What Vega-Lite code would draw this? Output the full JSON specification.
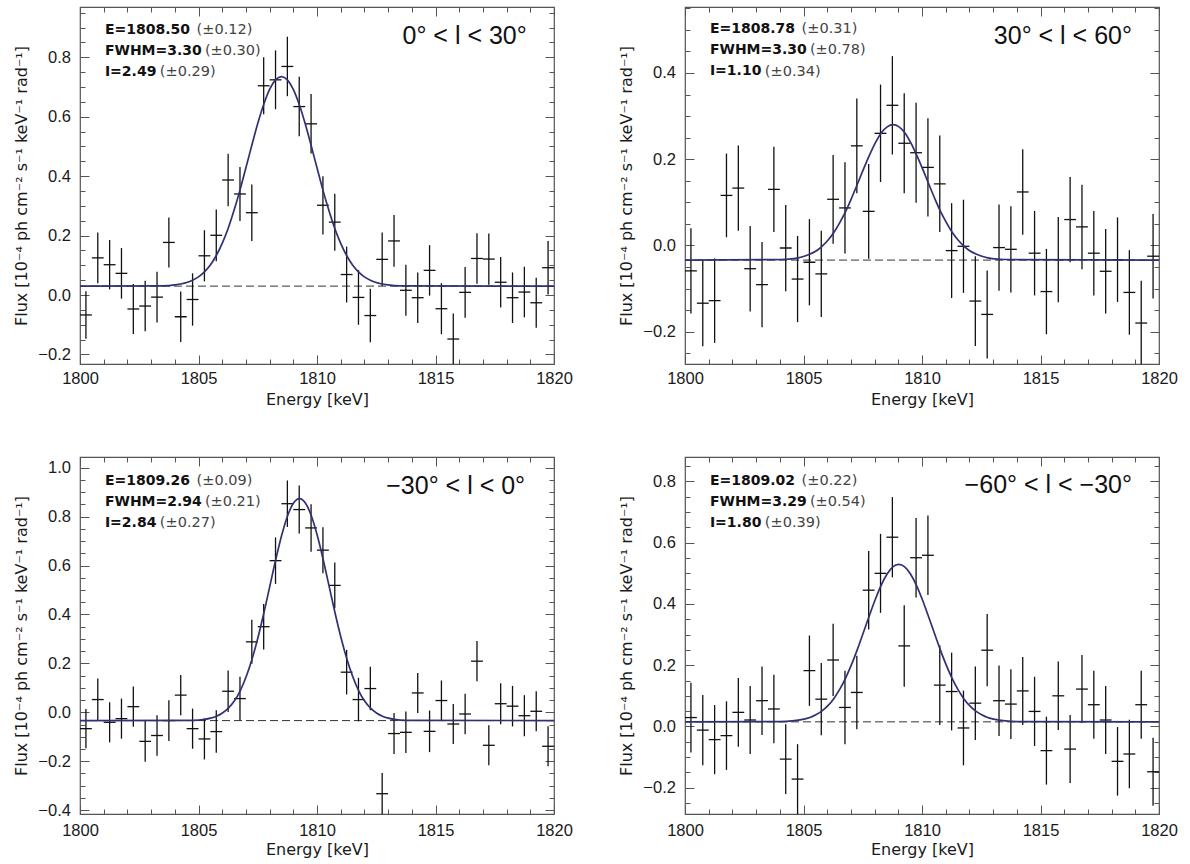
{
  "$schema": "https://vega.github.io/schema/vega-lite/v6.json",
  "background": "white",
  "padding": {"left": 13, "top": 5, "right": 10, "bottom": 5},
  "columns": 2,
  "spacing": {"row": 93, "column": 131},
  "bounds": "flush",
  "config": {
    "view": {"stroke": "#555555", "strokeWidth": 1.2},
    "axis": {
      "domain": false, "grid": false, "tickColor": "#555555", "tickWidth": 1,
      "labelFont": "Liberation Sans", "labelFontSize": 16.5, "labelColor": "#1a1a1a",
      "titleFont": "DejaVu Sans", "titleFontSize": 16, "titleFontWeight": "normal", "titleColor": "#1a1a1a",
      "labelFlush": false, "labelOverlap": false
    }
  },
  "datasets": {
    "p1": [
      {"E":1800.25,"f":-0.067,"s":0.08},{"E":1800.75,"f":0.125,"s":0.085},{"E":1801.25,"f":0.102,"s":0.083},{"E":1801.75,"f":0.073,"s":0.085},
      {"E":1802.25,"f":-0.047,"s":0.084},{"E":1802.75,"f":-0.037,"s":0.085},{"E":1803.25,"f":-0.007,"s":0.085},{"E":1803.75,"f":0.177,"s":0.084},
      {"E":1804.25,"f":-0.073,"s":0.085},{"E":1804.75,"f":-0.015,"s":0.088},{"E":1805.25,"f":0.132,"s":0.086},{"E":1805.75,"f":0.201,"s":0.087},
      {"E":1806.25,"f":0.387,"s":0.088},{"E":1806.75,"f":0.340,"s":0.091},{"E":1807.25,"f":0.277,"s":0.095},{"E":1807.75,"f":0.704,"s":0.096},
      {"E":1808.25,"f":0.724,"s":0.099},{"E":1808.75,"f":0.769,"s":0.1},{"E":1809.25,"f":0.634,"s":0.1},{"E":1809.75,"f":0.576,"s":0.1},
      {"E":1810.25,"f":0.302,"s":0.098},{"E":1810.75,"f":0.245,"s":0.096},{"E":1811.25,"f":0.069,"s":0.094},{"E":1811.75,"f":-0.008,"s":0.092},
      {"E":1812.25,"f":-0.069,"s":0.09},{"E":1812.75,"f":0.120,"s":0.09},{"E":1813.25,"f":0.182,"s":0.087},{"E":1813.75,"f":0.016,"s":0.086},
      {"E":1814.25,"f":-0.009,"s":0.085},{"E":1814.75,"f":0.083,"s":0.085},{"E":1815.25,"f":-0.046,"s":0.086},{"E":1815.75,"f":-0.148,"s":0.086},
      {"E":1816.25,"f":0.009,"s":0.085},{"E":1816.75,"f":0.123,"s":0.085},{"E":1817.25,"f":0.121,"s":0.086},{"E":1817.75,"f":0.043,"s":0.085},
      {"E":1818.25,"f":-0.009,"s":0.085},{"E":1818.75,"f":0.010,"s":0.085},{"E":1819.25,"f":-0.026,"s":0.084},{"E":1819.75,"f":0.092,"s":0.09}
    ],
    "p2": [
      {"E":1800.25,"f":-0.059,"s":0.099},{"E":1800.75,"f":-0.134,"s":0.1},{"E":1801.25,"f":-0.128,"s":0.098},{"E":1801.75,"f":0.116,"s":0.097},
      {"E":1802.25,"f":0.133,"s":0.099},{"E":1802.75,"f":-0.054,"s":0.099},{"E":1803.25,"f":-0.091,"s":0.099},{"E":1803.75,"f":0.130,"s":0.099},
      {"E":1804.25,"f":-0.006,"s":0.1},{"E":1804.75,"f":-0.078,"s":0.1},{"E":1805.25,"f":-0.039,"s":0.1},{"E":1805.75,"f":-0.066,"s":0.1},
      {"E":1806.25,"f":0.107,"s":0.103},{"E":1806.75,"f":0.087,"s":0.106},{"E":1807.25,"f":0.231,"s":0.11},{"E":1807.75,"f":0.079,"s":0.11},
      {"E":1808.25,"f":0.260,"s":0.113},{"E":1808.75,"f":0.325,"s":0.114},{"E":1809.25,"f":0.237,"s":0.116},{"E":1809.75,"f":0.215,"s":0.116},
      {"E":1810.25,"f":0.181,"s":0.114},{"E":1810.75,"f":0.143,"s":0.112},{"E":1811.25,"f":-0.012,"s":0.11},{"E":1811.75,"f":-0.002,"s":0.108},
      {"E":1812.25,"f":-0.129,"s":0.104},{"E":1812.75,"f":-0.160,"s":0.102},{"E":1813.25,"f":-0.005,"s":0.1},{"E":1813.75,"f":-0.009,"s":0.1},
      {"E":1814.25,"f":0.124,"s":0.099},{"E":1814.75,"f":-0.018,"s":0.098},{"E":1815.25,"f":-0.107,"s":0.099},{"E":1815.75,"f":-0.033,"s":0.099},
      {"E":1816.25,"f":0.060,"s":0.099},{"E":1816.75,"f":0.043,"s":0.098},{"E":1817.25,"f":-0.018,"s":0.098},{"E":1817.75,"f":-0.060,"s":0.098},
      {"E":1818.25,"f":-0.033,"s":0.098},{"E":1818.75,"f":-0.109,"s":0.098},{"E":1819.25,"f":-0.180,"s":0.098},{"E":1819.75,"f":-0.025,"s":0.098}
    ],
    "p3": [
      {"E":1800.25,"f":-0.067,"s":0.08},{"E":1800.75,"f":0.052,"s":0.086},{"E":1801.25,"f":-0.041,"s":0.082},{"E":1801.75,"f":-0.026,"s":0.082},
      {"E":1802.25,"f":0.023,"s":0.082},{"E":1802.75,"f":-0.119,"s":0.083},{"E":1803.25,"f":-0.095,"s":0.083},{"E":1803.75,"f":-0.034,"s":0.083},
      {"E":1804.25,"f":0.070,"s":0.082},{"E":1804.75,"f":-0.067,"s":0.082},{"E":1805.25,"f":-0.109,"s":0.084},{"E":1805.75,"f":-0.079,"s":0.087},
      {"E":1806.25,"f":0.086,"s":0.085},{"E":1806.75,"f":0.056,"s":0.089},{"E":1807.25,"f":0.288,"s":0.09},{"E":1807.75,"f":0.350,"s":0.093},
      {"E":1808.25,"f":0.620,"s":0.095},{"E":1808.75,"f":0.853,"s":0.095},{"E":1809.25,"f":0.829,"s":0.098},{"E":1809.75,"f":0.754,"s":0.097},
      {"E":1810.25,"f":0.663,"s":0.094},{"E":1810.75,"f":0.519,"s":0.094},{"E":1811.25,"f":0.164,"s":0.091},{"E":1811.75,"f":0.052,"s":0.089},
      {"E":1812.25,"f":0.097,"s":0.089},{"E":1812.75,"f":-0.333,"s":0.085},{"E":1813.25,"f":-0.087,"s":0.084},{"E":1813.75,"f":-0.082,"s":0.085},
      {"E":1814.25,"f":0.079,"s":0.082},{"E":1814.75,"f":-0.078,"s":0.085},{"E":1815.25,"f":0.048,"s":0.082},{"E":1815.75,"f":-0.048,"s":0.082},
      {"E":1816.25,"f":-0.007,"s":0.083},{"E":1816.75,"f":0.209,"s":0.082},{"E":1817.25,"f":-0.135,"s":0.082},{"E":1817.75,"f":0.035,"s":0.084},
      {"E":1818.25,"f":0.025,"s":0.083},{"E":1818.75,"f":-0.014,"s":0.084},{"E":1819.25,"f":0.004,"s":0.082},{"E":1819.75,"f":-0.139,"s":0.082}
    ],
    "p4": [
      {"E":1800.25,"f":0.029,"s":0.114},{"E":1800.75,"f":-0.012,"s":0.115},{"E":1801.25,"f":-0.043,"s":0.113},{"E":1801.75,"f":-0.030,"s":0.112},
      {"E":1802.25,"f":0.046,"s":0.112},{"E":1802.75,"f":0.021,"s":0.111},{"E":1803.25,"f":0.084,"s":0.112},{"E":1803.75,"f":0.057,"s":0.112},
      {"E":1804.25,"f":-0.107,"s":0.114},{"E":1804.75,"f":-0.172,"s":0.114},{"E":1805.25,"f":0.182,"s":0.115},{"E":1805.75,"f":0.089,"s":0.118},
      {"E":1806.25,"f":0.217,"s":0.118},{"E":1806.75,"f":0.062,"s":0.12},{"E":1807.25,"f":0.111,"s":0.12},{"E":1807.75,"f":0.445,"s":0.128},
      {"E":1808.25,"f":0.500,"s":0.129},{"E":1808.75,"f":0.618,"s":0.131},{"E":1809.25,"f":0.263,"s":0.133},{"E":1809.75,"f":0.551,"s":0.13},
      {"E":1810.25,"f":0.559,"s":0.13},{"E":1810.75,"f":0.135,"s":0.13},{"E":1811.25,"f":0.114,"s":0.127},{"E":1811.75,"f":-0.005,"s":0.122},
      {"E":1812.25,"f":0.076,"s":0.12},{"E":1812.75,"f":0.249,"s":0.118},{"E":1813.25,"f":0.084,"s":0.115},{"E":1813.75,"f":0.073,"s":0.114},
      {"E":1814.25,"f":0.116,"s":0.111},{"E":1814.75,"f":0.049,"s":0.113},{"E":1815.25,"f":-0.079,"s":0.111},{"E":1815.75,"f":0.100,"s":0.112},
      {"E":1816.25,"f":-0.074,"s":0.111},{"E":1816.75,"f":0.122,"s":0.111},{"E":1817.25,"f":0.071,"s":0.111},{"E":1817.75,"f":0.021,"s":0.111},
      {"E":1818.25,"f":-0.114,"s":0.112},{"E":1818.75,"f":-0.090,"s":0.112},{"E":1819.25,"f":0.071,"s":0.111},{"E":1819.75,"f":-0.148,"s":0.111}
    ],
    "c1": [
      {"E":1800,"f":0.03},{"E":1803.5,"f":0.031},{"E":1804,"f":0.034},{"E":1804.5,"f":0.042},{"E":1804.75,"f":0.05},{"E":1805,"f":0.061},
      {"E":1805.25,"f":0.078},{"E":1805.5,"f":0.101},{"E":1805.75,"f":0.133},{"E":1806,"f":0.174},{"E":1806.25,"f":0.224},{"E":1806.5,"f":0.285},
      {"E":1806.75,"f":0.353},{"E":1807,"f":0.428},{"E":1807.25,"f":0.504},{"E":1807.5,"f":0.577},{"E":1807.75,"f":0.641},{"E":1808,"f":0.692},
      {"E":1808.25,"f":0.724},{"E":1808.5,"f":0.735},{"E":1808.75,"f":0.724},{"E":1809,"f":0.692},{"E":1809.25,"f":0.641},{"E":1809.5,"f":0.577},
      {"E":1809.75,"f":0.504},{"E":1810,"f":0.428},{"E":1810.25,"f":0.353},{"E":1810.5,"f":0.285},{"E":1810.75,"f":0.224},{"E":1811,"f":0.174},
      {"E":1811.25,"f":0.133},{"E":1811.5,"f":0.101},{"E":1811.75,"f":0.078},{"E":1812,"f":0.061},{"E":1812.25,"f":0.05},{"E":1812.5,"f":0.042},
      {"E":1813,"f":0.034},{"E":1813.5,"f":0.031},{"E":1820,"f":0.03}
    ],
    "c2": [
      {"E":1800,"f":-0.034},{"E":1803.78,"f":-0.033},{"E":1804.28,"f":-0.032},{"E":1804.78,"f":-0.029},{"E":1805.03,"f":-0.025},{"E":1805.28,"f":-0.02},
      {"E":1805.53,"f":-0.013},{"E":1805.78,"f":-0.002},{"E":1806.03,"f":0.012},{"E":1806.28,"f":0.03},{"E":1806.53,"f":0.053},{"E":1806.78,"f":0.079},
      {"E":1807.03,"f":0.11},{"E":1807.28,"f":0.143},{"E":1807.53,"f":0.177},{"E":1807.78,"f":0.209},{"E":1808.03,"f":0.238},{"E":1808.28,"f":0.261},
      {"E":1808.53,"f":0.275},{"E":1808.78,"f":0.28},{"E":1809.03,"f":0.275},{"E":1809.28,"f":0.261},{"E":1809.53,"f":0.238},{"E":1809.78,"f":0.209},
      {"E":1810.03,"f":0.177},{"E":1810.28,"f":0.143},{"E":1810.53,"f":0.11},{"E":1810.78,"f":0.079},{"E":1811.03,"f":0.053},{"E":1811.28,"f":0.03},
      {"E":1811.53,"f":0.012},{"E":1811.78,"f":-0.002},{"E":1812.03,"f":-0.013},{"E":1812.28,"f":-0.02},{"E":1812.53,"f":-0.025},{"E":1812.78,"f":-0.029},
      {"E":1813.28,"f":-0.032},{"E":1813.78,"f":-0.033},{"E":1820,"f":-0.034}
    ],
    "c3": [
      {"E":1800,"f":-0.034},{"E":1804.76,"f":-0.033},{"E":1805.26,"f":-0.029},{"E":1805.51,"f":-0.024},{"E":1805.76,"f":-0.016},{"E":1806.01,"f":-0.003},
      {"E":1806.26,"f":0.017},{"E":1806.51,"f":0.046},{"E":1806.76,"f":0.088},{"E":1807.01,"f":0.145},{"E":1807.26,"f":0.218},{"E":1807.51,"f":0.306},
      {"E":1807.76,"f":0.407},{"E":1808.01,"f":0.516},{"E":1808.26,"f":0.625},{"E":1808.51,"f":0.724},{"E":1808.76,"f":0.804},{"E":1809.01,"f":0.856},
      {"E":1809.26,"f":0.874},{"E":1809.51,"f":0.856},{"E":1809.76,"f":0.804},{"E":1810.01,"f":0.724},{"E":1810.26,"f":0.625},{"E":1810.51,"f":0.516},
      {"E":1810.76,"f":0.407},{"E":1811.01,"f":0.306},{"E":1811.26,"f":0.218},{"E":1811.51,"f":0.145},{"E":1811.76,"f":0.088},{"E":1812.01,"f":0.046},
      {"E":1812.26,"f":0.017},{"E":1812.51,"f":-0.003},{"E":1812.76,"f":-0.016},{"E":1813.01,"f":-0.024},{"E":1813.26,"f":-0.029},{"E":1813.76,"f":-0.033},
      {"E":1820,"f":-0.034}
    ],
    "c4": [
      {"E":1800,"f":0.015},{"E":1804.02,"f":0.016},{"E":1804.52,"f":0.018},{"E":1805.02,"f":0.024},{"E":1805.27,"f":0.029},{"E":1805.52,"f":0.038},
      {"E":1805.77,"f":0.05},{"E":1806.02,"f":0.067},{"E":1806.27,"f":0.09},{"E":1806.52,"f":0.12},{"E":1806.77,"f":0.157},{"E":1807.02,"f":0.201},
      {"E":1807.27,"f":0.251},{"E":1807.52,"f":0.305},{"E":1807.77,"f":0.36},{"E":1808.02,"f":0.413},{"E":1808.27,"f":0.46},{"E":1808.52,"f":0.497},
      {"E":1808.77,"f":0.521},{"E":1809.02,"f":0.529},{"E":1809.27,"f":0.521},{"E":1809.52,"f":0.497},{"E":1809.77,"f":0.46},{"E":1810.02,"f":0.413},
      {"E":1810.27,"f":0.36},{"E":1810.52,"f":0.305},{"E":1810.77,"f":0.251},{"E":1811.02,"f":0.201},{"E":1811.27,"f":0.157},{"E":1811.52,"f":0.12},
      {"E":1811.77,"f":0.09},{"E":1812.02,"f":0.067},{"E":1812.27,"f":0.05},{"E":1812.52,"f":0.038},{"E":1812.77,"f":0.029},{"E":1813.02,"f":0.024},
      {"E":1813.52,"f":0.018},{"E":1814.02,"f":0.016},{"E":1820,"f":0.015}
    ]
  },
  "concat": [
    {
      "width": 474, "height": 357,
      "data": {"values": [{}]},
      "resolve": {"axis": {"x": "independent", "y": "independent"}},
      "layer": [
        {"mark": {"type": "rule", "strokeDash": [8, 4], "color": "#333333", "strokeWidth": 1},
         "encoding": {"y": {"datum": 0.03, "type": "quantitative", "axis": null}}},
        {"data": {"name": "p1"},
         "mark": {"type": "errorbar", "color": "#111111", "thickness": 1.3, "clip": true},
         "encoding": {
           "x": {"field": "E", "type": "quantitative", "scale": {"domain": [1800, 1820], "nice": false, "zero": false},
                 "axis": {"orient": "bottom", "values": [1800,1801,1802,1803,1804,1805,1806,1807,1808,1809,1810,1811,1812,1813,1814,1815,1816,1817,1818,1819,1820],
                          "format": "d", "labelExpr": "datum.value % 5 === 0 ? datum.label : ''",
                          "tickSize": {"condition": {"test": "datum.value % 5 === 0", "value": -9}, "value": -5},
                          "labelPadding": 15, "title": "Energy [keV]", "titlePadding": 0.5}},
           "y": {"field": "f", "type": "quantitative", "scale": {"domain": [-0.232, 0.969], "nice": false, "zero": false},
                 "axis": {"orient": "left", "values": [-0.2,-0.15,-0.1,-0.05,0,0.05,0.1,0.15,0.2,0.25,0.3,0.35,0.4,0.45,0.5,0.55,0.6,0.65,0.7,0.75,0.8,0.85,0.9,0.95],
                          "format": ".1f", "labelExpr": "abs(datum.value*5 - round(datum.value*5)) < 0.001 ? datum.label : ''",
                          "labelFontSize": {"condition": {"test": "abs(datum.value*5 - round(datum.value*5)) < 0.001", "value": 16.5}, "value": 0},
                          "tickSize": {"condition": {"test": "abs(datum.value*5 - round(datum.value*5)) < 0.001", "value": -9}, "value": -5},
                          "labelPadding": 18.6, "title": "Flux [10⁻⁴ ph cm⁻² s⁻¹ keV⁻¹ rad⁻¹]", "titlePadding": 8}},
           "yError": {"field": "s"}}},
        {"data": {"name": "p1"},
         "mark": {"type": "tick", "orient": "horizontal", "size": 11.84, "thickness": 1.3, "color": "#111111", "opacity": 1},
         "encoding": {
           "x": {"field": "E", "type": "quantitative",
                 "axis": {"orient": "top", "values": [1800,1801,1802,1803,1804,1805,1806,1807,1808,1809,1810,1811,1812,1813,1814,1815,1816,1817,1818,1819,1820],
                          "labels": false, "title": null,
                          "tickSize": {"condition": {"test": "datum.value % 5 === 0", "value": -9}, "value": -5}}},
           "y": {"field": "f", "type": "quantitative",
                 "axis": {"orient": "right", "values": [-0.2,-0.15,-0.1,-0.05,0,0.05,0.1,0.15,0.2,0.25,0.3,0.35,0.4,0.45,0.5,0.55,0.6,0.65,0.7,0.75,0.8,0.85,0.9,0.95],
                          "labels": false, "title": null,
                          "tickSize": {"condition": {"test": "abs(datum.value*5 - round(datum.value*5)) < 0.001", "value": -9}, "value": -5}}}}},
        {"data": {"name": "c1"},
         "mark": {"type": "line", "color": "#303075", "strokeWidth": 1.7, "interpolate": "monotone", "clip": true},
         "encoding": {"x": {"field": "E", "type": "quantitative", "axis": null}, "y": {"field": "f", "type": "quantitative", "axis": null}}},
        {"mark": {"type": "text", "text": ["E=1808.50", "FWHM=3.30", "I=2.49"], "font": "DejaVu Sans", "fontWeight": "bold", "fontSize": 14, "align": "left", "baseline": "alphabetic", "lineHeight": 21, "color": "#111111"},
         "encoding": {"x": {"datum": 1801.05, "type": "quantitative", "axis": null}, "y": {"datum": 0.878, "type": "quantitative", "axis": null}}},
        {"mark": {"type": "text", "text": "(±0.12)", "font": "DejaVu Sans", "fontSize": 14.5, "align": "left", "baseline": "alphabetic", "color": "#444444"},
         "encoding": {"x": {"datum": 1804.92, "type": "quantitative", "axis": null}, "y": {"datum": 0.878, "type": "quantitative", "axis": null}}},
        {"mark": {"type": "text", "text": "(±0.30)", "font": "DejaVu Sans", "fontSize": 14.5, "align": "left", "baseline": "alphabetic", "color": "#444444"},
         "encoding": {"x": {"datum": 1805.27, "type": "quantitative", "axis": null}, "y": {"datum": 0.8075, "type": "quantitative", "axis": null}}},
        {"mark": {"type": "text", "text": "(±0.29)", "font": "DejaVu Sans", "fontSize": 14.5, "align": "left", "baseline": "alphabetic", "color": "#444444"},
         "encoding": {"x": {"datum": 1803.37, "type": "quantitative", "axis": null}, "y": {"datum": 0.737, "type": "quantitative", "axis": null}}},
        {"mark": {"type": "text", "text": "0° < l < 30°", "font": "Liberation Sans", "fontSize": 25, "align": "right", "baseline": "alphabetic", "color": "#111111"},
         "encoding": {"x": {"datum": 1818.85, "type": "quantitative", "axis": null}, "y": {"datum": 0.845, "type": "quantitative", "axis": null}}}
      ]
    },
    {
      "width": 474, "height": 357,
      "data": {"values": [{}]},
      "resolve": {"axis": {"x": "independent", "y": "independent"}},
      "layer": [
        {"mark": {"type": "rule", "strokeDash": [8, 4], "color": "#333333", "strokeWidth": 1},
         "encoding": {"y": {"datum": -0.034, "type": "quantitative", "axis": null}}},
        {"data": {"name": "p2"},
         "mark": {"type": "errorbar", "color": "#111111", "thickness": 1.3, "clip": true},
         "encoding": {
           "x": {"field": "E", "type": "quantitative", "scale": {"domain": [1800, 1820], "nice": false, "zero": false},
                 "axis": {"orient": "bottom", "values": [1800,1801,1802,1803,1804,1805,1806,1807,1808,1809,1810,1811,1812,1813,1814,1815,1816,1817,1818,1819,1820],
                          "format": "d", "labelExpr": "datum.value % 5 === 0 ? datum.label : ''",
                          "tickSize": {"condition": {"test": "datum.value % 5 === 0", "value": -9}, "value": -5},
                          "labelPadding": 15, "title": "Energy [keV]", "titlePadding": 0.5}},
           "y": {"field": "f", "type": "quantitative", "scale": {"domain": [-0.275, 0.553], "nice": false, "zero": false},
                 "axis": {"orient": "left", "values": [-0.25,-0.2,-0.15,-0.1,-0.05,0,0.05,0.1,0.15,0.2,0.25,0.3,0.35,0.4,0.45,0.5,0.55],
                          "format": ".1f", "labelExpr": "abs(datum.value*5 - round(datum.value*5)) < 0.001 ? datum.label : ''",
                          "labelFontSize": {"condition": {"test": "abs(datum.value*5 - round(datum.value*5)) < 0.001", "value": 16.5}, "value": 0},
                          "tickSize": {"condition": {"test": "abs(datum.value*5 - round(datum.value*5)) < 0.001", "value": -9}, "value": -5},
                          "labelPadding": 18.6, "title": "Flux [10⁻⁴ ph cm⁻² s⁻¹ keV⁻¹ rad⁻¹]", "titlePadding": 8}},
           "yError": {"field": "s"}}},
        {"data": {"name": "p2"},
         "mark": {"type": "tick", "orient": "horizontal", "size": 11.84, "thickness": 1.3, "color": "#111111", "opacity": 1},
         "encoding": {
           "x": {"field": "E", "type": "quantitative",
                 "axis": {"orient": "top", "values": [1800,1801,1802,1803,1804,1805,1806,1807,1808,1809,1810,1811,1812,1813,1814,1815,1816,1817,1818,1819,1820],
                          "labels": false, "title": null,
                          "tickSize": {"condition": {"test": "datum.value % 5 === 0", "value": -9}, "value": -5}}},
           "y": {"field": "f", "type": "quantitative",
                 "axis": {"orient": "right", "values": [-0.25,-0.2,-0.15,-0.1,-0.05,0,0.05,0.1,0.15,0.2,0.25,0.3,0.35,0.4,0.45,0.5,0.55],
                          "labels": false, "title": null,
                          "tickSize": {"condition": {"test": "abs(datum.value*5 - round(datum.value*5)) < 0.001", "value": -9}, "value": -5}}}}},
        {"data": {"name": "c2"},
         "mark": {"type": "line", "color": "#303075", "strokeWidth": 1.7, "interpolate": "monotone", "clip": true},
         "encoding": {"x": {"field": "E", "type": "quantitative", "axis": null}, "y": {"field": "f", "type": "quantitative", "axis": null}}},
        {"mark": {"type": "text", "text": ["E=1808.78", "FWHM=3.30", "I=1.10"], "font": "DejaVu Sans", "fontWeight": "bold", "fontSize": 14, "align": "left", "baseline": "alphabetic", "lineHeight": 21, "color": "#111111"},
         "encoding": {"x": {"datum": 1801.05, "type": "quantitative", "axis": null}, "y": {"datum": 0.492, "type": "quantitative", "axis": null}}},
        {"mark": {"type": "text", "text": "(±0.31)", "font": "DejaVu Sans", "fontSize": 14.5, "align": "left", "baseline": "alphabetic", "color": "#444444"},
         "encoding": {"x": {"datum": 1804.92, "type": "quantitative", "axis": null}, "y": {"datum": 0.492, "type": "quantitative", "axis": null}}},
        {"mark": {"type": "text", "text": "(±0.78)", "font": "DejaVu Sans", "fontSize": 14.5, "align": "left", "baseline": "alphabetic", "color": "#444444"},
         "encoding": {"x": {"datum": 1805.27, "type": "quantitative", "axis": null}, "y": {"datum": 0.443, "type": "quantitative", "axis": null}}},
        {"mark": {"type": "text", "text": "(±0.34)", "font": "DejaVu Sans", "fontSize": 14.5, "align": "left", "baseline": "alphabetic", "color": "#444444"},
         "encoding": {"x": {"datum": 1803.37, "type": "quantitative", "axis": null}, "y": {"datum": 0.394, "type": "quantitative", "axis": null}}},
        {"mark": {"type": "text", "text": "30° < l < 60°", "font": "Liberation Sans", "fontSize": 25, "align": "right", "baseline": "alphabetic", "color": "#111111"},
         "encoding": {"x": {"datum": 1818.86, "type": "quantitative", "axis": null}, "y": {"datum": 0.468, "type": "quantitative", "axis": null}}}
      ]
    },
    {
      "width": 474, "height": 357,
      "data": {"values": [{}]},
      "resolve": {"axis": {"x": "independent", "y": "independent"}},
      "layer": [
        {"mark": {"type": "rule", "strokeDash": [8, 4], "color": "#333333", "strokeWidth": 1},
         "encoding": {"y": {"datum": -0.034, "type": "quantitative", "axis": null}}},
        {"data": {"name": "p3"},
         "mark": {"type": "errorbar", "color": "#111111", "thickness": 1.3, "clip": true},
         "encoding": {
           "x": {"field": "E", "type": "quantitative", "scale": {"domain": [1800, 1820], "nice": false, "zero": false},
                 "axis": {"orient": "bottom", "values": [1800,1801,1802,1803,1804,1805,1806,1807,1808,1809,1810,1811,1812,1813,1814,1815,1816,1817,1818,1819,1820],
                          "format": "d", "labelExpr": "datum.value % 5 === 0 ? datum.label : ''",
                          "tickSize": {"condition": {"test": "datum.value % 5 === 0", "value": -9}, "value": -5},
                          "labelPadding": 17.5, "title": "Energy [keV]", "titlePadding": -2}},
           "y": {"field": "f", "type": "quantitative", "scale": {"domain": [-0.416, 1.044], "nice": false, "zero": false},
                 "axis": {"orient": "left", "values": [-0.4,-0.35,-0.3,-0.25,-0.2,-0.15,-0.1,-0.05,0,0.05,0.1,0.15,0.2,0.25,0.3,0.35,0.4,0.45,0.5,0.55,0.6,0.65,0.7,0.75,0.8,0.85,0.9,0.95,1.0],
                          "format": ".1f", "labelExpr": "abs(datum.value*5 - round(datum.value*5)) < 0.001 ? datum.label : ''",
                          "labelFontSize": {"condition": {"test": "abs(datum.value*5 - round(datum.value*5)) < 0.001", "value": 16.5}, "value": 0},
                          "tickSize": {"condition": {"test": "abs(datum.value*5 - round(datum.value*5)) < 0.001", "value": -9}, "value": -5},
                          "labelPadding": 18.6, "title": "Flux [10⁻⁴ ph cm⁻² s⁻¹ keV⁻¹ rad⁻¹]", "titlePadding": 8}},
           "yError": {"field": "s"}}},
        {"data": {"name": "p3"},
         "mark": {"type": "tick", "orient": "horizontal", "size": 11.84, "thickness": 1.3, "color": "#111111", "opacity": 1},
         "encoding": {
           "x": {"field": "E", "type": "quantitative",
                 "axis": {"orient": "top", "values": [1800,1801,1802,1803,1804,1805,1806,1807,1808,1809,1810,1811,1812,1813,1814,1815,1816,1817,1818,1819,1820],
                          "labels": false, "title": null,
                          "tickSize": {"condition": {"test": "datum.value % 5 === 0", "value": -9}, "value": -5}}},
           "y": {"field": "f", "type": "quantitative",
                 "axis": {"orient": "right", "values": [-0.4,-0.35,-0.3,-0.25,-0.2,-0.15,-0.1,-0.05,0,0.05,0.1,0.15,0.2,0.25,0.3,0.35,0.4,0.45,0.5,0.55,0.6,0.65,0.7,0.75,0.8,0.85,0.9,0.95,1.0],
                          "labels": false, "title": null,
                          "tickSize": {"condition": {"test": "abs(datum.value*5 - round(datum.value*5)) < 0.001", "value": -9}, "value": -5}}}}},
        {"data": {"name": "c3"},
         "mark": {"type": "line", "color": "#303075", "strokeWidth": 1.7, "interpolate": "monotone", "clip": true},
         "encoding": {"x": {"field": "E", "type": "quantitative", "axis": null}, "y": {"field": "f", "type": "quantitative", "axis": null}}},
        {"mark": {"type": "text", "text": ["E=1809.26", "FWHM=2.94", "I=2.84"], "font": "DejaVu Sans", "fontWeight": "bold", "fontSize": 14, "align": "left", "baseline": "alphabetic", "lineHeight": 21, "color": "#111111"},
         "encoding": {"x": {"datum": 1801.05, "type": "quantitative", "axis": null}, "y": {"datum": 0.931, "type": "quantitative", "axis": null}}},
        {"mark": {"type": "text", "text": "(±0.09)", "font": "DejaVu Sans", "fontSize": 14.5, "align": "left", "baseline": "alphabetic", "color": "#444444"},
         "encoding": {"x": {"datum": 1804.92, "type": "quantitative", "axis": null}, "y": {"datum": 0.931, "type": "quantitative", "axis": null}}},
        {"mark": {"type": "text", "text": "(±0.21)", "font": "DejaVu Sans", "fontSize": 14.5, "align": "left", "baseline": "alphabetic", "color": "#444444"},
         "encoding": {"x": {"datum": 1805.27, "type": "quantitative", "axis": null}, "y": {"datum": 0.845, "type": "quantitative", "axis": null}}},
        {"mark": {"type": "text", "text": "(±0.27)", "font": "DejaVu Sans", "fontSize": 14.5, "align": "left", "baseline": "alphabetic", "color": "#444444"},
         "encoding": {"x": {"datum": 1803.37, "type": "quantitative", "axis": null}, "y": {"datum": 0.759, "type": "quantitative", "axis": null}}},
        {"mark": {"type": "text", "text": "−30° < l < 0°", "font": "Liberation Sans", "fontSize": 25, "align": "right", "baseline": "alphabetic", "color": "#111111"},
         "encoding": {"x": {"datum": 1818.78, "type": "quantitative", "axis": null}, "y": {"datum": 0.894, "type": "quantitative", "axis": null}}}
      ]
    },
    {
      "width": 474, "height": 357,
      "data": {"values": [{}]},
      "resolve": {"axis": {"x": "independent", "y": "independent"}},
      "layer": [
        {"mark": {"type": "rule", "strokeDash": [8, 4], "color": "#333333", "strokeWidth": 1},
         "encoding": {"y": {"datum": 0.015, "type": "quantitative", "axis": null}}},
        {"data": {"name": "p4"},
         "mark": {"type": "errorbar", "color": "#111111", "thickness": 1.3, "clip": true},
         "encoding": {
           "x": {"field": "E", "type": "quantitative", "scale": {"domain": [1800, 1820], "nice": false, "zero": false},
                 "axis": {"orient": "bottom", "values": [1800,1801,1802,1803,1804,1805,1806,1807,1808,1809,1810,1811,1812,1813,1814,1815,1816,1817,1818,1819,1820],
                          "format": "d", "labelExpr": "datum.value % 5 === 0 ? datum.label : ''",
                          "tickSize": {"condition": {"test": "datum.value % 5 === 0", "value": -9}, "value": -5},
                          "labelPadding": 17.5, "title": "Energy [keV]", "titlePadding": -2}},
           "y": {"field": "f", "type": "quantitative", "scale": {"domain": [-0.286, 0.88], "nice": false, "zero": false},
                 "axis": {"orient": "left", "values": [-0.25,-0.2,-0.15,-0.1,-0.05,0,0.05,0.1,0.15,0.2,0.25,0.3,0.35,0.4,0.45,0.5,0.55,0.6,0.65,0.7,0.75,0.8,0.85],
                          "format": ".1f", "labelExpr": "abs(datum.value*5 - round(datum.value*5)) < 0.001 ? datum.label : ''",
                          "labelFontSize": {"condition": {"test": "abs(datum.value*5 - round(datum.value*5)) < 0.001", "value": 16.5}, "value": 0},
                          "tickSize": {"condition": {"test": "abs(datum.value*5 - round(datum.value*5)) < 0.001", "value": -9}, "value": -5},
                          "labelPadding": 18.6, "title": "Flux [10⁻⁴ ph cm⁻² s⁻¹ keV⁻¹ rad⁻¹]", "titlePadding": 8}},
           "yError": {"field": "s"}}},
        {"data": {"name": "p4"},
         "mark": {"type": "tick", "orient": "horizontal", "size": 11.84, "thickness": 1.3, "color": "#111111", "opacity": 1},
         "encoding": {
           "x": {"field": "E", "type": "quantitative",
                 "axis": {"orient": "top", "values": [1800,1801,1802,1803,1804,1805,1806,1807,1808,1809,1810,1811,1812,1813,1814,1815,1816,1817,1818,1819,1820],
                          "labels": false, "title": null,
                          "tickSize": {"condition": {"test": "datum.value % 5 === 0", "value": -9}, "value": -5}}},
           "y": {"field": "f", "type": "quantitative",
                 "axis": {"orient": "right", "values": [-0.25,-0.2,-0.15,-0.1,-0.05,0,0.05,0.1,0.15,0.2,0.25,0.3,0.35,0.4,0.45,0.5,0.55,0.6,0.65,0.7,0.75,0.8,0.85],
                          "labels": false, "title": null,
                          "tickSize": {"condition": {"test": "abs(datum.value*5 - round(datum.value*5)) < 0.001", "value": -9}, "value": -5}}}}},
        {"data": {"name": "c4"},
         "mark": {"type": "line", "color": "#303075", "strokeWidth": 1.7, "interpolate": "monotone", "clip": true},
         "encoding": {"x": {"field": "E", "type": "quantitative", "axis": null}, "y": {"field": "f", "type": "quantitative", "axis": null}}},
        {"mark": {"type": "text", "text": ["E=1809.02", "FWHM=3.29", "I=1.80"], "font": "DejaVu Sans", "fontWeight": "bold", "fontSize": 14, "align": "left", "baseline": "alphabetic", "lineHeight": 21, "color": "#111111"},
         "encoding": {"x": {"datum": 1801.05, "type": "quantitative", "axis": null}, "y": {"datum": 0.79, "type": "quantitative", "axis": null}}},
        {"mark": {"type": "text", "text": "(±0.22)", "font": "DejaVu Sans", "fontSize": 14.5, "align": "left", "baseline": "alphabetic", "color": "#444444"},
         "encoding": {"x": {"datum": 1804.92, "type": "quantitative", "axis": null}, "y": {"datum": 0.79, "type": "quantitative", "axis": null}}},
        {"mark": {"type": "text", "text": "(±0.54)", "font": "DejaVu Sans", "fontSize": 14.5, "align": "left", "baseline": "alphabetic", "color": "#444444"},
         "encoding": {"x": {"datum": 1805.27, "type": "quantitative", "axis": null}, "y": {"datum": 0.7215, "type": "quantitative", "axis": null}}},
        {"mark": {"type": "text", "text": "(±0.39)", "font": "DejaVu Sans", "fontSize": 14.5, "align": "left", "baseline": "alphabetic", "color": "#444444"},
         "encoding": {"x": {"datum": 1803.37, "type": "quantitative", "axis": null}, "y": {"datum": 0.653, "type": "quantitative", "axis": null}}},
        {"mark": {"type": "text", "text": "−60° < l < −30°", "font": "Liberation Sans", "fontSize": 25, "align": "right", "baseline": "alphabetic", "color": "#111111"},
         "encoding": {"x": {"datum": 1818.86, "type": "quantitative", "axis": null}, "y": {"datum": 0.761, "type": "quantitative", "axis": null}}}
      ]
    }
  ]
}
